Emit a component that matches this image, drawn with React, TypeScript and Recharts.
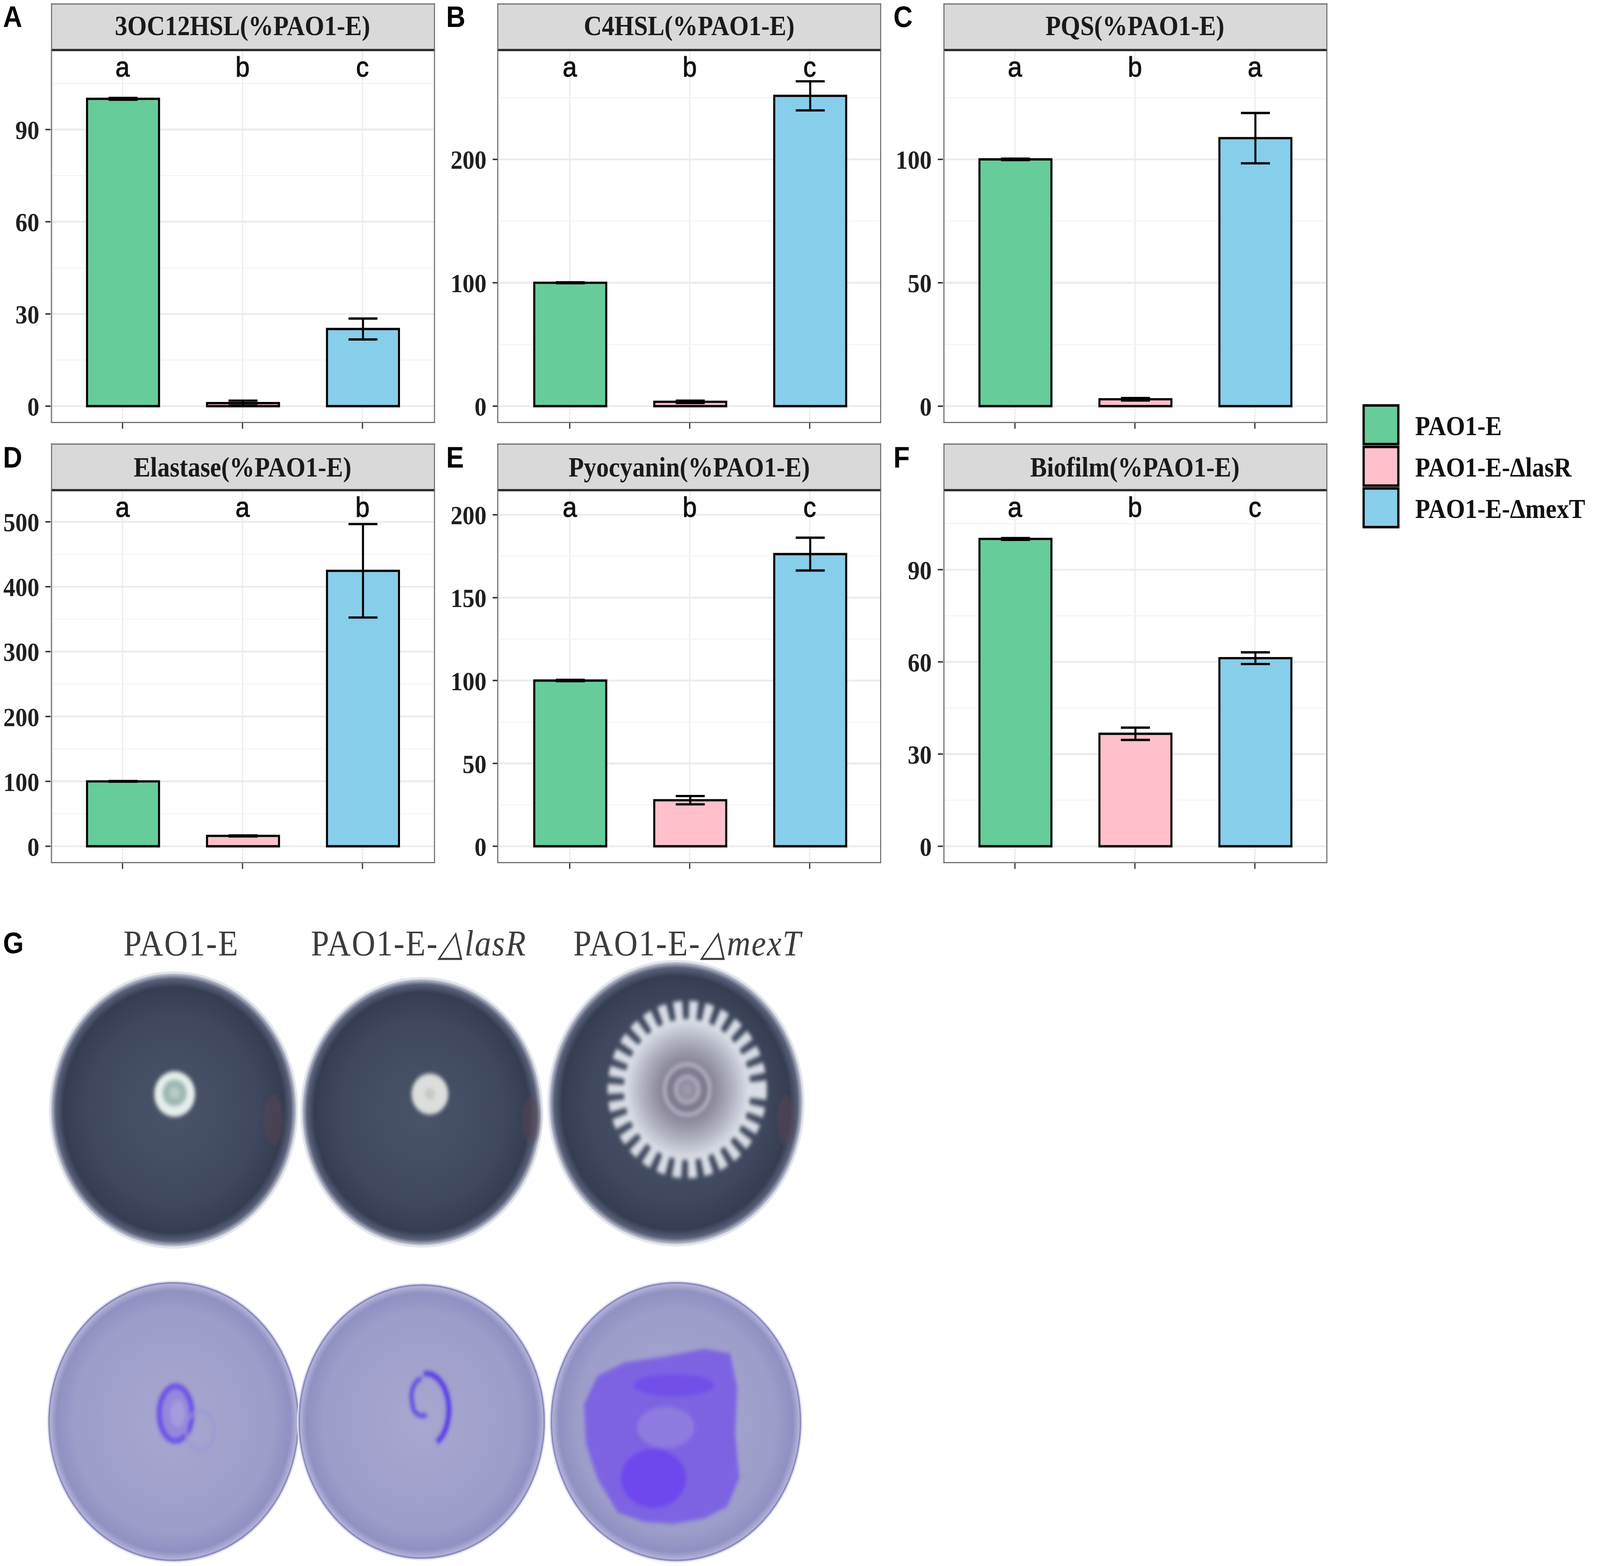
import React from 'react';
import { ComposedChart, Bar, Line, ErrorBar, XAxis, YAxis, CartesianGrid, Cell } from 'recharts';

// layout is worked out at 1567 x 1377 (reference proportions) and scaled to fill the window
const BASE_W = 1567;
const BASE_H = 1377;
const SERIF = '"Liberation Serif", "Times New Roman", Times, serif';
const SANS = '"Liberation Sans", Arial, Helvetica, sans-serif';

const GROUPS = ['PAO1-E', 'PAO1-E-ΔlasR', 'PAO1-E-ΔmexT'];
const FILLS = ['#66CC99', '#FFC0CB', '#87CEEB'];
const TAGS = ['A', 'B', 'C', 'D', 'E', 'F'];
const TITLES = [
  '3OC12HSL(%PAO1-E)',
  'C4HSL(%PAO1-E)',
  'PQS(%PAO1-E)',
  'Elastase(%PAO1-E)',
  'Pyocyanin(%PAO1-E)',
  'Biofilm(%PAO1-E)',
];
const MEANS = [
  [100, 1.0, 25.1],
  [100, 3.5, 251.5],
  [100, 2.8, 108.6],
  [100, 16, 424.5],
  [100, 27.8, 176.3],
  [100, 36.6, 61.2],
];
const SDS = [
  [0.3, 0.8, 3.4],
  [0.4, 1.0, 11.8],
  [0.3, 0.5, 10.2],
  [0.5, 0.8, 72],
  [0.4, 2.5, 9.9],
  [0.3, 2.0, 1.9],
];
const LETTERS = [
  ['a', 'b', 'c'],
  ['a', 'b', 'c'],
  ['a', 'b', 'a'],
  ['a', 'a', 'b'],
  ['a', 'b', 'c'],
  ['a', 'b', 'c'],
];
const LETTER_Y = [110, 274, 137, 521, 204, 110];
const Y_TICKS = [
  [0, 30, 60, 90],
  [0, 100, 200],
  [0, 50, 100],
  [0, 100, 200, 300, 400, 500],
  [0, 50, 100, 150, 200],
  [0, 30, 60, 90],
];
const Y_MINOR = [
  [15, 45, 75, 105],
  [50, 150, 250],
  [25, 75, 125],
  [50, 150, 250, 350, 450],
  [25, 75, 125, 175],
  [15, 45, 75, 105],
];
const PLATE_LABELS = ['PAO1-E', 'PAO1-E-', 'PAO1-E-'];
const PLATE_GENES = ['', 'lasR', 'mexT'];

const COL_X = [49.5, 487, 923.5];
const TAG_X = [3, 437, 875];
const ROW_Y = [2.5, 390];
const PW = 376;
const STRIP_H = 42;
const PLOT_H = 327;
const AXIS_W = 49.5;
const TICK_H = 8;
const BAND = PW / 3.2;

const renderLetter = (p: any) => (
  <text
    key={`l${p.index}`}
    x={p.cx}
    y={p.cy + 7.4}
    textAnchor="middle"
    fontFamily={SANS}
    fontSize={25}
    stroke="#111"
    strokeWidth={0.5}
    fill="#111"
  >
    {p.payload.letter}
  </text>
);

function Panel({ idx }: { idx: number }) {
  const col = idx % 3;
  const row = Math.floor(idx / 3);
  const L = LETTER_Y[idx];
  const data = GROUPS.map((g, i) => ({
    group: g,
    mean: MEANS[idx][i],
    sd: SDS[idx][i],
    letter: LETTERS[idx][i],
    letterY: L,
  }));
  const left = COL_X[col];
  const top = ROW_Y[row];

  return (
    <>
      <div
        style={{
          position: 'absolute',
          left,
          top,
          width: PW,
          height: STRIP_H,
          boxSizing: 'border-box',
          background: '#D9D9D9',
          border: '1.3px solid #6b6b6b',
          borderBottom: '2.6px solid #2b2b2b',
          display: 'flex',
          alignItems: 'center',
          justifyContent: 'center',
          fontFamily: SERIF,
          fontWeight: 700,
          fontSize: 24.5,
          color: '#1a1a1a',
          whiteSpace: 'nowrap',
        }}
      >
        {TITLES[idx]}
      </div>
      <div style={{ position: 'absolute', left: left - AXIS_W, top: top + STRIP_H }}>
        <ComposedChart
          width={AXIS_W + PW}
          height={PLOT_H + TICK_H}
          data={data}
          margin={{ top: 0, right: 0, bottom: 0, left: 0 }}
        >
          <CartesianGrid horizontal={false} stroke="#EBEBEB" strokeWidth={1.2} />
          <CartesianGrid vertical={false} horizontalValues={Y_MINOR[idx]} stroke="#F4F4F4" strokeWidth={0.9} />
          <CartesianGrid vertical={false} horizontalValues={Y_TICKS[idx]} stroke="#EBEBEB" strokeWidth={1.6} />
          <XAxis
            dataKey="group"
            padding={{ left: BAND * 0.1, right: BAND * 0.1 }}
            height={TICK_H}
            tickSize={5}
            tickLine={{ stroke: '#333', strokeWidth: 1.2 }}
            axisLine={false}
            tick={() => <g />}
            interval={0}
          />
          <YAxis
            type="number"
            domain={[-0.05 * L, 1.05 * L]}
            ticks={Y_TICKS[idx]}
            allowDataOverflow
            width={AXIS_W}
            tickSize={5}
            tickMargin={6}
            axisLine={false}
            tickLine={{ stroke: '#333', strokeWidth: 1.3 }}
            tick={{ fill: '#1f1f1f', fontSize: 23.5, fontFamily: SERIF, fontWeight: 700 }}
            interval={0}
          />
          <Bar dataKey="mean" barSize={BAND * 0.6} stroke="#000" strokeWidth={2} isAnimationActive={false}>
            {data.map((d, i) => (
              <Cell key={d.group} fill={FILLS[i]} />
            ))}
            <ErrorBar dataKey="sd" width={14.2} stroke="#000" strokeWidth={2} isAnimationActive={false} />
          </Bar>
          <Line
            dataKey="letterY"
            stroke="none"
            dot={renderLetter}
            activeDot={false}
            isAnimationActive={false}
          />
        </ComposedChart>
      </div>
      <div
        style={{
          position: 'absolute',
          left,
          top: top + STRIP_H - 1,
          width: PW,
          height: PLOT_H + 1,
          boxSizing: 'border-box',
          border: '1.3px solid #6b6b6b',
          borderTop: 'none',
          pointerEvents: 'none',
        }}
      />
    </>
  );
}

function Plates() {
  const top = [
    { cx: 170, cy: 976, r: 120 },
    { cx: 413, cy: 978, r: 117 },
    { cx: 662, cy: 970, r: 124 },
  ];
  const bottom = [
    { cx: 170, cy: 1250, r: 122 },
    { cx: 413, cy: 1250, r: 120 },
    { cx: 662, cy: 1250, r: 122 },
  ];
  return (
    <g>
      <defs>
        <radialGradient id="agar" cx="50%" cy="50%" r="50%">
          <stop offset="0%" stopColor="#4a5469" />
          <stop offset="70%" stopColor="#3f485e" />
          <stop offset="90%" stopColor="#353d52" />
          <stop offset="96%" stopColor="#59617a" />
          <stop offset="100%" stopColor="#c4c9d6" />
        </radialGradient>
        <radialGradient id="crystal" cx="50%" cy="50%" r="50%">
          <stop offset="0%" stopColor="#a7a7d0" />
          <stop offset="80%" stopColor="#9d9dca" />
          <stop offset="94%" stopColor="#9090c3" />
          <stop offset="100%" stopColor="#b7b7dc" />
        </radialGradient>
        <radialGradient id="swarm" cx="50%" cy="50%" r="50%">
          <stop offset="0%" stopColor="#a29eb0" />
          <stop offset="30%" stopColor="#7c768c" />
          <stop offset="70%" stopColor="#aeb0c0" />
          <stop offset="100%" stopColor="#dfe2ea" />
        </radialGradient>
        <filter id="soft" x="-10%" y="-10%" width="120%" height="120%">
          <feGaussianBlur stdDeviation="1.8" />
        </filter>
      </defs>
      {top.map((p, i) => (
        <g key={`t${i}`}>
          <circle cx={p.cx} cy={p.cy} r={p.r + 2} fill="#e3e5ec" />
          <circle cx={p.cx} cy={p.cy} r={p.r} fill="url(#agar)" />
        </g>
      ))}
      <g filter="url(#soft)">
        <ellipse cx={268} cy={985} rx={10} ry={22} fill="#5a4654" opacity={0.55} />
        <ellipse cx={520} cy={985} rx={9} ry={20} fill="#5a4654" opacity={0.5} />
        <ellipse cx={770} cy={985} rx={9} ry={22} fill="#5a4654" opacity={0.5} />
        {/* PAO1-E colony */}
        <circle cx={171} cy={962} r={20} fill="#e6eeec" />
        <circle cx={171} cy={961} r={12} fill="#9fb8b4" />
        <circle cx={171} cy={961} r={5} fill="#b8cac6" />
        {/* lasR colony */}
        <circle cx={421} cy={962} r={18} fill="#dcdedb" />
        <circle cx={421} cy={962} r={5} fill="#c6c8c6" />
        {/* mexT swarm */}
        <circle
          cx={673}
          cy={958}
          r={68}
          fill="none"
          stroke="#d9dde5"
          strokeWidth={20}
          strokeDasharray="8 6"
        />
        <circle cx={673} cy={958} r={62} fill="url(#swarm)" />
        <circle cx={673} cy={958} r={22} fill="none" stroke="#b9b6c6" strokeWidth={3} />
        <circle cx={673} cy={958} r={11} fill="none" stroke="#b9b6c6" strokeWidth={2.5} />
      </g>

      {bottom.map((p, i) => (
        <g key={`b${i}`}>
          <circle cx={p.cx} cy={p.cy} r={p.r + 2} fill="#e6e6f2" />
          <circle cx={p.cx} cy={p.cy} r={p.r} fill="url(#crystal)" stroke="#8b8bc0" strokeWidth={1.5} />
        </g>
      ))}
      <g filter="url(#soft)">
        <ellipse cx={172} cy={1243} rx={16} ry={24} fill="#9488dc" stroke="#6a4ee6" strokeWidth={5} />
        <ellipse cx={174} cy={1243} rx={7} ry={12} fill="#a59cdc" />
        <ellipse cx={196} cy={1258} rx={14} ry={17} fill="none" stroke="#9d92d8" strokeWidth={2} />
        <path d="M 415 1208 A 22 32 0 0 1 428 1268" fill="none" stroke="#5535ea" strokeWidth={4.5} />
        <path d="M 413 1212 A 12 16 0 0 0 404 1234 A 10 10 0 0 0 418 1244" fill="none" stroke="#5a3ce6" strokeWidth={3.5} />
        <polygon
          points="585,1210 612,1198 650,1193 690,1186 715,1190 722,1220 720,1260 724,1300 712,1325 690,1335 660,1340 630,1338 605,1330 585,1300 574,1270 572,1235"
          fill="#7d63e2"
        />
        <ellipse cx={640} cy={1300} rx={32} ry={26} fill="#6a40f0" opacity={0.8} />
        <ellipse cx={660} cy={1218} rx={40} ry={10} fill="#6a45ee" opacity={0.6} />
        <ellipse cx={652} cy={1255} rx={28} ry={18} fill="#9c8ee0" opacity={0.6} />
      </g>
    </g>
  );
}

function Overlay() {
  const keyY = [356.5, 393, 429.5];
  const labelX = [177.5, 410.2, 673.3];
  return (
    <svg width={BASE_W} height={BASE_H} style={{ position: 'absolute', left: 0, top: 0 }}>
      {TAGS.map((t, i) => (
        <text
          key={t}
          x={TAG_X[i % 3]}
          y={23.8 + ROW_Y[Math.floor(i / 3)] - ROW_Y[0]}
          fontFamily={SANS}
          fontWeight={700}
          fontSize={26}
          fill="#000"
        >
          {t}
        </text>
      ))}
      {GROUPS.map((g, i) => (
        <g key={g}>
          <rect x={1335.5} y={keyY[i]} width={34} height={34} fill={FILLS[i]} stroke="#000" strokeWidth={2.2} />
          <text x={1386} y={keyY[i] + 17 + 9} fontFamily={SERIF} fontWeight={700} fontSize={24} fill="#111">
            {g}
          </text>
        </g>
      ))}
      <text x={3} y={838} fontFamily={SANS} fontWeight={700} fontSize={26} fill="#000">
        G
      </text>
      {PLATE_LABELS.map((l, i) => (
        <text
          key={`pl${i}`}
          x={labelX[i]}
          y={840}
          textAnchor="middle"
          fontFamily={SERIF}
          fontSize={32}
          letterSpacing={1}
          fill="#3c3c3c"
        >
          {l}
          {PLATE_GENES[i] && (
            <>
              <tspan fontStyle="italic">△</tspan>
              <tspan fontStyle="italic">{PLATE_GENES[i]}</tspan>
            </>
          )}
        </text>
      ))}
      <Plates />
    </svg>
  );
}

export default function App() {
  const vw = document.documentElement.clientWidth || window.innerWidth;
  const vh = document.documentElement.clientHeight || window.innerHeight;
  const sx = vw / BASE_W;
  const sy = vh / BASE_H;
  return (
    <div
      style={{
        position: 'absolute',
        left: 0,
        top: 0,
        width: BASE_W,
        height: BASE_H,
        background: '#fff',
        transform: `scale(${sx}, ${sy})`,
        transformOrigin: '0 0',
        overflow: 'hidden',
      }}
    >
      <Overlay />
      {TITLES.map((t, i) => (
        <Panel key={t} idx={i} />
      ))}
    </div>
  );
}
